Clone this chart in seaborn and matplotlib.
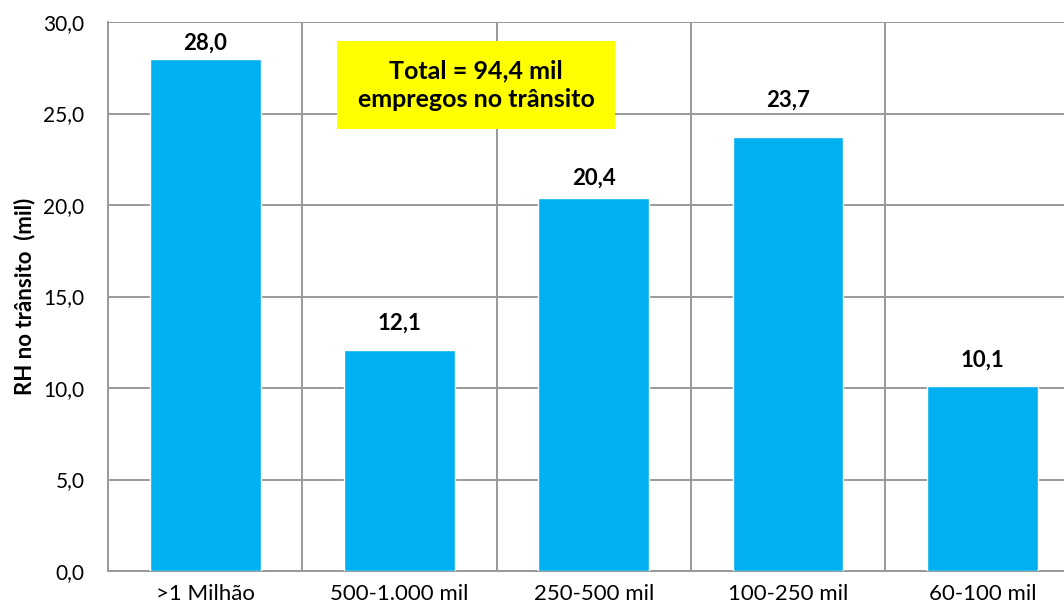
import pandas as pd
import matplotlib.pyplot as plt
import seaborn as sns
from matplotlib.ticker import FixedLocator, FuncFormatter
from matplotlib.patches import Rectangle

# Data
categorias = [">1 Milhão", "500-1.000 mil", "250-500 mil", "100-250 mil", "60-100 mil"]
valores = [28.0, 12.1, 20.4, 23.7, 10.1]
nota = "Total = 94,4 mil\nempregos no trânsito"

# label offsets above bars (manually placed in the original)
label_offset = [0.82, 1.42, 1.09, 2.02, 1.42]

df = pd.DataFrame({"Faixa": categorias, "RH": valores})

sns.set_style("white")
plt.rcParams['font.family'] = ['Lato', 'DejaVu Sans']
plt.rcParams['text.color'] = 'black'
plt.rcParams['axes.labelcolor'] = 'black'

fig = plt.figure(figsize=(10.64, 6.14), dpi=100)
ax = fig.add_axes([108 / 1064, 43 / 614, 971.5 / 1064, 549 / 614])

sns.barplot(data=df, x="Faixa", y="RH", color="#00B0F0", saturation=1,
            width=0.57, ax=ax, zorder=3)

ax.set_ylim(0, 30)
ax.set_xlim(-0.5, len(categorias) - 0.5)
ax.set_yticks([0, 5, 10, 15, 20, 25, 30])
ax.yaxis.set_major_formatter(FuncFormatter(lambda v, p: f"{v:.1f}".replace(".", ",")))
ax.xaxis.set_minor_locator(FixedLocator([i + 0.5 for i in range(len(categorias))]))

ax.grid(axis="y", which="major", color="#999999", linewidth=1.4, zorder=0)
ax.grid(axis="x", which="minor", color="#999999", linewidth=1.4, zorder=0)
ax.grid(axis="x", which="major", visible=False)
for s in ["top", "right"]:
    ax.spines[s].set_visible(False)
for s in ["left", "bottom"]:
    ax.spines[s].set_color("#999999")
    ax.spines[s].set_linewidth(1.4)
ax.tick_params(axis="both", which="both", length=0, colors="black")
ax.tick_params(axis="x", labelsize=16, pad=9)
ax.tick_params(axis="y", labelsize=15, pad=17)

ax.set_xlabel("")
ax.set_ylabel("RH no trânsito  (mil)", fontsize=16, fontweight="bold", labelpad=6)

for i, v in enumerate(valores):
    ax.text(i, v + label_offset[i], f"{v:.1f}".replace(".", ","), ha="center", va="center",
            fontsize=16, fontweight="bold", zorder=4)

# Yellow note box
ax.add_patch(Rectangle((0.679, 24.15), 1.43, 4.81, facecolor="yellow",
                       edgecolor="none", zorder=4))
ax.text(1.394, 26.55, nota, ha="center", va="center", fontsize=18,
        fontweight="bold", linespacing=1.3, zorder=5)

fig.savefig("out.png", dpi=100)
